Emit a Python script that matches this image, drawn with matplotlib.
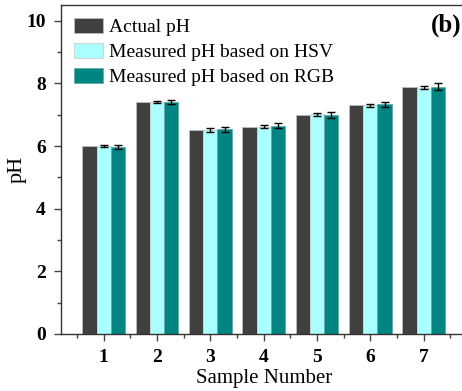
import numpy as np
import matplotlib
matplotlib.use('Agg')
import matplotlib.pyplot as plt
from matplotlib.ticker import MultipleLocator

plt.rcParams['font.family'] = ['Liberation Serif', 'DejaVu Serif']

samples = [1, 2, 3, 4, 5, 6, 7]
actual_ph = [6.0, 7.4, 6.5, 6.6, 7.0, 7.3, 7.9]
hsv_ph = [6.0, 7.4, 6.51, 6.61, 7.01, 7.3, 7.86]
hsv_err = [0.04, 0.03, 0.06, 0.05, 0.05, 0.05, 0.05]
rgb_ph = [5.98, 7.4, 6.54, 6.65, 7.0, 7.33, 7.9]
rgb_err = [0.06, 0.07, 0.08, 0.08, 0.09, 0.09, 0.1]

labels = ['Actual pH', 'Measured pH based on HSV', 'Measured pH based on RGB']
colors = ['#404040', '#aaffff', '#008582']

fig = plt.figure(figsize=(4.62, 3.91), dpi=100)
ax = fig.add_axes([0.132, 0.146, 0.8775, 0.841])

x = np.array(samples)
w = 0.267
ekw = dict(ecolor='black', elinewidth=1.0, capsize=3, capthick=1.0)
ax.bar(x - w, actual_ph, w, color=colors[0], edgecolor='#bbbbbb', linewidth=0.6, label=labels[0])
ax.bar(x, hsv_ph, w, yerr=hsv_err, color=colors[1], edgecolor='#cccccc', linewidth=0.6,
       error_kw=ekw, label=labels[1])
ax.bar(x + w, rgb_ph, w, yerr=rgb_err, color=colors[2], edgecolor='#66aaaa', linewidth=0.6,
       error_kw=ekw, label=labels[2])

ax.set_xlim(0.2, 7.8)
ax.set_ylim(0, 10.5)
ax.set_xticks(samples)
ax.set_yticks([0, 2, 4, 6, 8, 10])
ax.xaxis.set_minor_locator(MultipleLocator(0.5))
ax.yaxis.set_minor_locator(MultipleLocator(1))
ax.tick_params(which='major', direction='out', length=5, width=1, color='#444444', labelsize=14, pad=6)
ax.tick_params(which='minor', direction='out', length=3, width=1, color='#444444')
for lab in ax.get_xticklabels() + ax.get_yticklabels():
    lab.set_fontweight('bold')
for s in ax.spines.values():
    s.set_color('#333333')
    s.set_linewidth(1.0)

ax.set_xlabel('Sample Number', fontsize=15, labelpad=2)
ax.set_ylabel('pH', fontsize=16, labelpad=0)

ax.legend(loc='upper left', frameon=False, fontsize=14, handlelength=1.5, handleheight=0.85,
          labelspacing=0.33, handletextpad=0.3, borderaxespad=0.25, bbox_to_anchor=(0.0, 1.0))
ax.text(0.987, 0.975, '(b)', transform=ax.transAxes, fontsize=18, fontweight='bold',
        ha='right', va='top')

fig.savefig('out.png', dpi=100)
